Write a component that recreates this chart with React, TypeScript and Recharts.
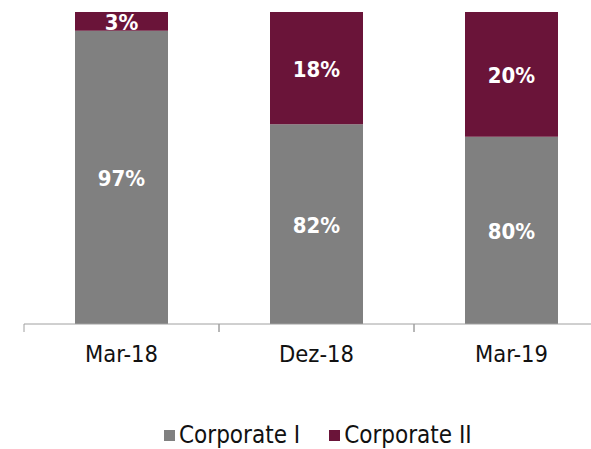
import { Bar, BarChart, LabelList, XAxis, YAxis } from 'recharts'

const categories = ['Mar-18', 'Dez-18', 'Mar-19']
const corporateI = [97, 82, 80]
const corporateII = [3, 18, 20]

const seriesNames = ['Corporate I', 'Corporate II']
const seriesColors = ['#808080', '#6a1439']

const FONT = '"DejaVu Sans Condensed", "DejaVu Sans", sans-serif'
const PLOT_TOP = 12
const PLOT_BOTTOM = 324
const BAND = 195
const TICK_SIZE = 8
const TICK_MARGIN = 13

const data = categories.map((c, i) => ({
  name: c,
  'Corporate I': corporateI[i],
  'Corporate II': corporateII[i],
}))

function BoundaryTick(props: any) {
  const { x, y, payload } = props
  const axisY = y - TICK_SIZE - TICK_MARGIN
  const left = x - BAND / 2
  return (
    <g>
      <line x1={left} x2={left} y1={axisY} y2={axisY + TICK_SIZE} stroke="#a0a0a0" />
      <line x1={left + BAND} x2={left + BAND} y1={axisY} y2={axisY + TICK_SIZE} stroke="#a0a0a0" />
      <text x={x} y={y} dy="0.71em" textAnchor="middle" fontSize={23.5} fontFamily={FONT} fill="#111">
        {payload.value}
      </text>
    </g>
  )
}

// label centred on the visible part of the segment (axis starts at 50%)
function SegmentLabel(props: any) {
  const { x, y, width, height, value } = props
  const top = Math.max(Math.min(y, y + height), PLOT_TOP)
  const bottom = Math.min(Math.max(y, y + height), PLOT_BOTTOM)
  const cy = (top + bottom) / 2
  return (
    <text
      x={x + width / 2}
      y={cy + 8.5}
      textAnchor="middle"
      fill="#fff"
      fontSize={22}
      fontWeight="bold"
      fontFamily={FONT}
    >
      {value}%
    </text>
  )
}

export default function App() {
  return (
    <div
      style={{
        position: 'fixed',
        left: 0,
        top: 0,
        width: 591,
        height: 449,
        overflow: 'hidden',
        background: '#fff',
      }}
    >
      <BarChart
        width={620}
        height={449}
        data={data}
        margin={{ top: PLOT_TOP, right: 11, bottom: 65, left: 24 }}
        barSize={93}
      >
        <XAxis
          dataKey="name"
          height={60}
          axisLine={{ stroke: '#a0a0a0' }}
          tickLine={false}
          tickSize={TICK_SIZE}
          tickMargin={TICK_MARGIN}
          tick={<BoundaryTick />}
          interval={0}
        />
        <YAxis hide domain={[50, 100]} allowDataOverflow />
        <Bar dataKey="Corporate I" stackId="a" fill={seriesColors[0]} isAnimationActive={false}>
          <LabelList dataKey="Corporate I" content={<SegmentLabel />} />
        </Bar>
        <Bar dataKey="Corporate II" stackId="a" fill={seriesColors[1]} isAnimationActive={false}>
          <LabelList dataKey="Corporate II" content={<SegmentLabel />} />
        </Bar>
      </BarChart>
      <div
        style={{
          position: 'absolute',
          left: 164,
          top: 423,
          display: 'flex',
          alignItems: 'center',
          fontFamily: FONT,
          fontSize: 24,
          lineHeight: '24px',
          color: '#111',
          whiteSpace: 'nowrap',
        }}
      >
        {seriesNames.map((n, i) => (
          <span key={n} style={{ display: 'flex', alignItems: 'center', marginRight: 29 }}>
            <span style={{ width: 11, height: 11, background: seriesColors[i], marginRight: 4 }} />
            {n}
          </span>
        ))}
      </div>
    </div>
  )
}
